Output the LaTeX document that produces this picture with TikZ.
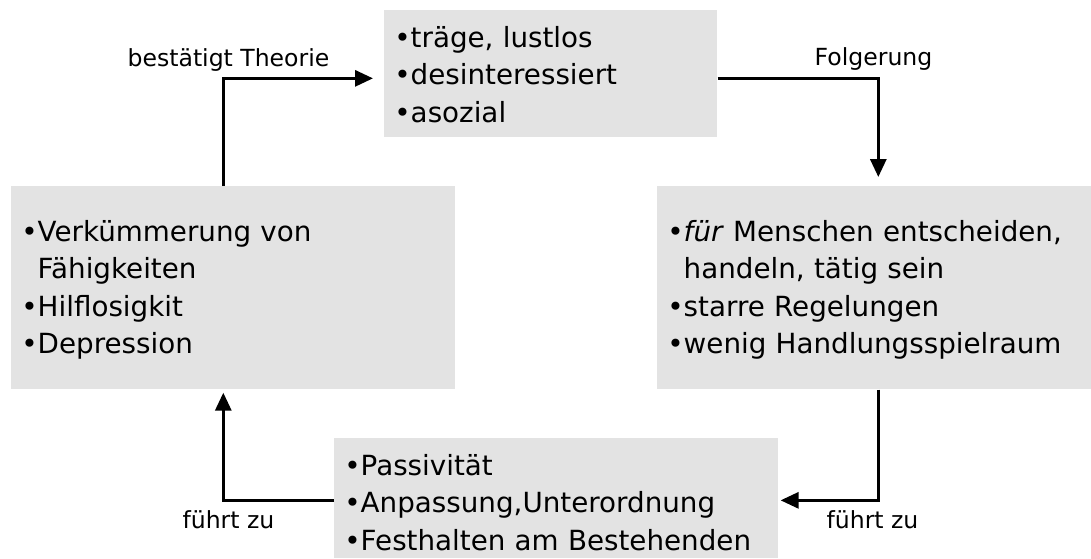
\documentclass[tikz,border=0pt]{standalone}
\usepackage{fontspec}
\setmainfont{DejaVu Sans}
\usepackage{xcolor}
\usepackage{tikz}
\usetikzlibrary{arrows.meta}
\definecolor{boxcolor}{HTML}{E3E3E3}
\tikzset{%
  itembox/.style={fill=boxcolor, anchor=north west, inner xsep=0.2cm, inner ysep=0pt, align=left, font=\fontsize{15.8}{21.3}\selectfont},%
  flow/.style={line width=1.7pt, -{Triangle[length=0.36cm, width=0.32cm]}},%
  flowlabel/.style={anchor=base, inner sep=0pt, font=\fontsize{13.4}{16}\selectfont},%
}
\newcommand{\hangbl}{\hphantom{•}}

\begin{document}
\begin{tikzpicture}[x=0.02cm, y=-0.02cm]%
\useasboundingbox (0, 0) rectangle (1091, 558);%
\node[itembox, text width=6.26cm, text height=0.74cm, text depth=1.8cm] (top) at (384, 10) {•träge, lustlos\\•desinteressiert\\•asozial};%
\node[itembox, text width=8.28cm, text height=1.1cm, text depth=2.96cm] (right) at (657, 186) {•\textit{für} Menschen entscheiden,\\\hangbl handeln, tätig sein\\•starre Regelungen\\•wenig Handlungsspielraum};%
\node[itembox, text width=8.48cm, text height=1.1cm, text depth=2.96cm] (left) at (11, 186) {•Verkümmerung von\\\hangbl Fähigkeiten\\•Hilflosigkit\\•Depression};%
\node[itembox, text width=8.48cm, text height=0.74cm, text depth=1.66cm] (bottom) at (334, 438) {•Passivität\\•Anpassung,Unterordnung\\•Festhalten am Bestehenden};%
\node[flowlabel] (theorie) at (228.5, 66) {bestätigt Theorie};%
\node[flowlabel] (folgerung) at (873.5, 65) {Folgerung};%
\node[flowlabel] (fuehrtl) at (228.5, 528) {führt zu};%
\node[flowlabel] (fuehrtr) at (872.5, 528) {führt zu};%
\draw[flow] ([xshift=-0.2cm]left.north) |- ([xshift=-0.22cm, yshift=-0.09cm]top.west);%
\draw[flow] ([yshift=-0.09cm]top.east) -| ([xshift=0.08cm, yshift=0.18cm]right.north);%
\draw[flow] ([xshift=0.08cm]right.south) |- ([xshift=0.04cm, yshift=-0.04cm]bottom.east);%
\draw[flow] ([yshift=-0.04cm]bottom.west) -| ([xshift=-0.2cm, yshift=-0.06cm]left.south);%
\end{tikzpicture}
\end{document}
